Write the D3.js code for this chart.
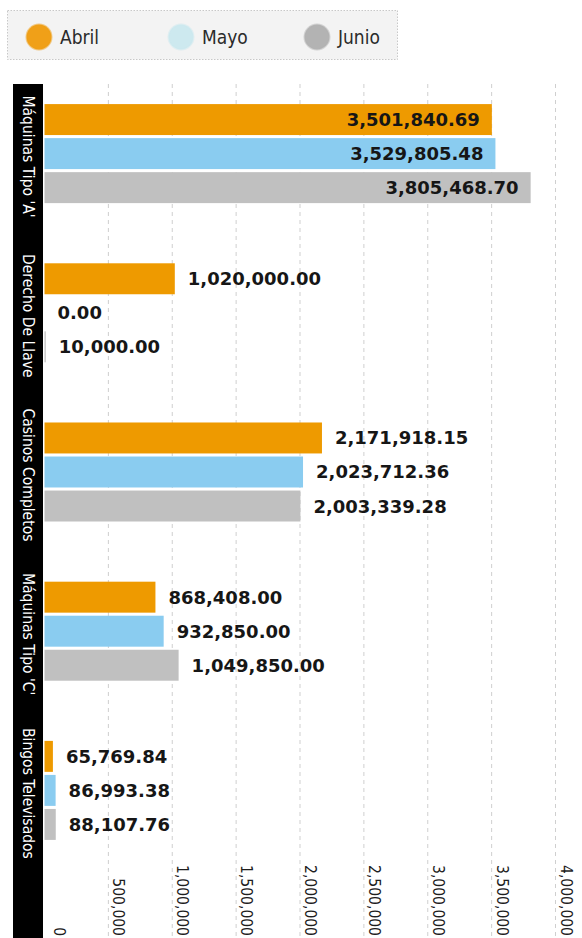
<!DOCTYPE html>
<html>
<head>
<meta charset="utf-8">
<script src="https://cdn.jsdelivr.net/npm/d3@7/dist/d3.min.js"></script>
<style>
  html, body { margin: 0; padding: 0; background: #ffffff; overflow: hidden; }
  svg { display: block; }
</style>
</head>
<body>
<div id="chart"></div>
<script>
// data
const categories = ["Máquinas Tipo 'A'", 'Derecho De Llave', 'Casinos Completos', "Máquinas Tipo 'C'", 'Bingos Televisados'];
const months = ['Abril', 'Mayo', 'Junio'];
const abril = [3501840.69, 1020000.00, 2171918.15, 868408.00, 65769.84];
const mayo = [3529805.48, 0.00, 2023712.36, 932850.00, 86993.38];
const junio = [3805468.70, 10000.00, 2003339.28, 1049850.00, 88107.76];
const tickValues = [0, 500000, 1000000, 1500000, 2000000, 2500000, 3000000, 3500000, 4000000];

const barColors = ['#ee9a00', '#8accf0', '#c0c0c0'];
const legendColors = ['#f0a018', '#cde9ef', '#b3b3b3'];

const width = 582;
const height = 938;

const series = [abril, mayo, junio];
const rows = categories.map((c, i) => ({
  category: c,
  values: months.map((m, j) => ({ month: m, value: series[j][i] }))
}));

const svg = d3.select('#chart')
  .append('svg')
  .attr('width', width)
  .attr('height', height);

// scales
const x = d3.scaleLinear()
  .domain([0, 4000000])
  .range([44.5, 555.5]);

const y0 = d3.scaleBand()
  .domain(categories)
  .range([74, 870])
  .paddingInner(0.378)
  .paddingOuter(0.189);

const y1 = d3.scaleBand()
  .domain(months)
  .range([0, y0.bandwidth()])
  .paddingInner(0.09);

const color = d3.scaleOrdinal().domain(months).range(barColors);
const fmt = d3.format(',.2f');

// legend
const legend = svg.append('g').attr('class', 'legend');
legend.append('rect')
  .attr('x', 7.5)
  .attr('y', 10.5)
  .attr('width', 390)
  .attr('height', 49)
  .attr('fill', '#f3f3f3')
  .attr('stroke', '#c8c8c8')
  .attr('stroke-width', 1)
  .attr('stroke-dasharray', '1.5,1.5');

const legendX = d3.scalePoint().domain(months).range([39, 317]);
const items = legend.selectAll('g.item')
  .data(months)
  .join('g')
  .attr('class', 'item')
  .attr('transform', d => `translate(${legendX(d) + (d === 'Mayo' ? 3 : 0)}, 37)`);

items.append('circle')
  .attr('r', 12.5)
  .attr('fill', (d, i) => legendColors[i])
  .attr('stroke', (d, i) => legendColors[i])
  .attr('stroke-opacity', 0.5)
  .attr('stroke-width', 2);

items.append('text')
  .attr('x', 21)
  .attr('y', 7)
  .attr('font-family', "'DejaVu Sans Condensed', 'DejaVu Sans', sans-serif")
  .attr('font-stretch', 'condensed')
  .attr('font-size', '19px')
  .attr('fill', '#2a2a2a')
  .text(d => d);

// gridlines
svg.append('g')
  .attr('class', 'grid')
  .selectAll('line')
  .data(tickValues.slice(1))
  .join('line')
  .attr('x1', d => x(d))
  .attr('x2', d => x(d))
  .attr('y1', 84)
  .attr('y2', height)
  .attr('stroke', '#cfcfcf')
  .attr('stroke-width', 1)
  .attr('stroke-dasharray', '4,4');

// bottom tick labels, turned to read top-down
svg.append('g')
  .attr('class', 'ticks')
  .selectAll('text')
  .data(tickValues)
  .join('text')
  .attr('transform', d => `translate(${x(d) + (d === 0 ? 9 : 5)}, 936) rotate(90)`)
  .attr('text-anchor', 'end')
  .attr('font-family', "'DejaVu Sans Condensed', 'DejaVu Sans', sans-serif")
  .attr('font-stretch', 'condensed')
  .attr('font-size', '15.5px')
  .attr('fill', '#1e1e1e')
  .text(d => d3.format(',')(d));

// black category band
svg.append('rect')
  .attr('x', 13)
  .attr('y', 84)
  .attr('width', 30)
  .attr('height', height - 84)
  .attr('fill', '#000');

svg.append('g')
  .attr('class', 'categories')
  .selectAll('text')
  .data(categories)
  .join('text')
  .attr('transform', d => `translate(28, ${y0(d) + y0.bandwidth() / 2 + 3}) rotate(90)`)
  .attr('text-anchor', 'middle')
  .attr('dominant-baseline', 'central')
  .attr('font-family', "'DejaVu Sans Condensed', 'DejaVu Sans', sans-serif")
  .attr('font-stretch', 'condensed')
  .attr('font-size', '15.5px')
  .attr('fill', '#ffffff')
  .text(d => d);

// bars
const groups = svg.append('g')
  .attr('class', 'bars')
  .selectAll('g')
  .data(rows)
  .join('g')
  .attr('transform', d => `translate(0, ${y0(d.category)})`);

groups.selectAll('rect')
  .data(d => d.values)
  .join('rect')
  .attr('x', x(0))
  .attr('y', d => y1(d.month))
  .attr('width', d => x(d.value) - x(0))
  .attr('height', y1.bandwidth())
  .attr('fill', d => color(d.month));

// value labels: outside the bar end, inside if they would run off the page
groups.selectAll('text')
  .data(d => d.values)
  .join('text')
  .attr('y', d => y1(d.month) + y1.bandwidth() / 2)
  .attr('dominant-baseline', 'central')
  .attr('font-family', "'DejaVu Sans', sans-serif")
  .attr('font-weight', 'bold')
  .attr('font-size', '18px')
  .attr('fill', '#161616')
  .text(d => fmt(d.value))
  .each(function(d) {
    const w = this.getComputedTextLength();
    const end = x(d.value);
    if (end + 14 + w > width - 8) {
      d3.select(this).attr('x', end - 12).attr('text-anchor', 'end');
    } else {
      d3.select(this).attr('x', end + 13).attr('text-anchor', 'start');
    }
  });
</script>
</body>
</html>
